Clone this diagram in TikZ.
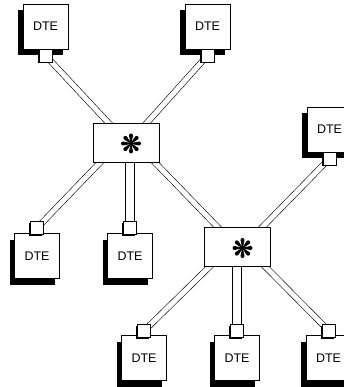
\documentclass[tikz,border=0pt]{standalone}
\usepackage{fontspec}
\setmainfont{Liberation Sans}
\usetikzlibrary{shadows,backgrounds,calc}

\begin{document}
\begin{tikzpicture}[x=1pt,y=-1pt,
  dte/.style={draw=black, line width=0.7pt, fill=white,
    minimum width=45pt, minimum height=45pt, inner sep=0pt,
    font=\fontsize{12.5}{13}\selectfont,
    general shadow={fill=black, shadow xshift=-5pt, shadow yshift=-6pt}},
  port/.style={draw=black, line width=0.7pt, fill=white,
    minimum size=13pt, inner sep=0pt,
    general shadow={fill=black, shadow xshift=-1.5pt, shadow yshift=-1.5pt}},
  hub/.style={draw=black, line width=0.7pt, fill=white,
    minimum width=66pt, minimum height=39pt, inner sep=0pt},
  link/.style={draw=black, line width=0.6pt, double=white, double distance=5pt},
  vlink/.style={draw=black, line width=0.6pt, double=white, double distance=8pt},
  star/.pic={
    \foreach \a in {0,45,...,315}
      \fill[rotate=\a] (0,-0.35) -- (8,-2) arc[start angle=-90, end angle=90, radius=2] -- (0,0.35) -- cycle;
  }]
\useasboundingbox (0,0) rectangle (343,387);

% switching nodes
\node[hub] (s1) at (126,142.5) {};
\node[hub] (s2) at (237.5,246.5) {};
\pic at ($(s1.center)+(5,1)$) {star};
\pic at ($(s2.center)+(5,1.5)$) {star};

% terminals and their ports
\node[dte] (tl) at (45.5,26.5) {DTE};
\node[port] (tlp) at (45.5,55.5) {};
\node[dte] (tr) at (207.5,26.5) {DTE};
\node[port] (trp) at (207.5,55.5) {};
\node[dte] (r) at (329.5,129.5) {DTE};
\node[port] (rp) at (329.5,158.5) {};
\node[dte] (bl1) at (37,256) {DTE};
\node[port] (bl1p) at (37,228) {};
\node[dte] (bl2) at (130,256) {DTE};
\node[port] (bl2p) at (130,228) {};
\node[dte] (b1) at (144,358) {DTE};
\node[port] (b1p) at (144,331) {};
\node[dte] (b2) at (237,358) {DTE};
\node[port] (b2p) at (237,331) {};
\node[dte] (b3) at (328.5,358) {DTE};
\node[port] (b3p) at (329,331) {};

% cables
\begin{scope}[on background layer]
\draw[link] (tlp.center) -- ($(s1.north)+(-14,4)$);
\draw[link] (trp.center) -- ($(s1.north)+(17.5,4)$);
\draw[link] ($(s1.south)+(-22,-4)$) -- (bl1p.center);
\draw[vlink] (bl2p.center) -- (bl2p.center |- s1.center);
\draw[link] ($(s1.south)+(25,-4)$) -- ($(s2.north)+(-16.5,4)$);
\draw[link] ($(s2.north)+(21.5,4)$) -- (rp.center);
\draw[link] ($(s2.south)+(-23.5,-4)$) -- (b1p.center);
\draw[vlink] (b2p.center) -- (b2p.center |- s2.center);
\draw[link] ($(s2.south)+(23.5,-4)$) -- (b3p.center);
\end{scope}
\end{tikzpicture}
\end{document}
